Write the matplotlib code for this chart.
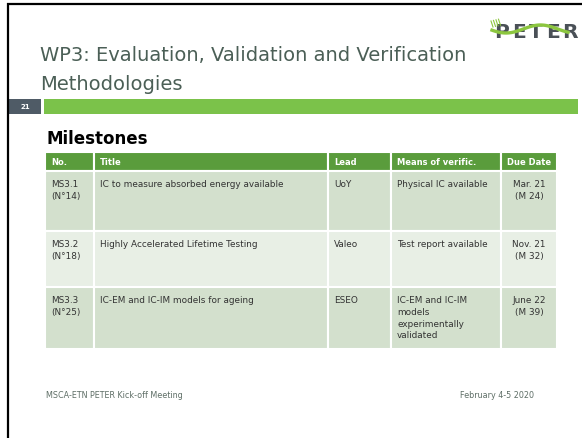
import matplotlib.pyplot as plt
from matplotlib.patches import Rectangle
import numpy as np

plt.rcParams['font.family'] = ['DejaVu Sans']

# slide content
title_lines = ["WP3: Evaluation, Validation and Verification", "Methodologies"]
slide_no = "21"
section = "Milestones"
headers = ["No.", "Title", "Lead", "Means of verific.", "Due Date"]
col_no = ["MS3.1\n(N°14)", "MS3.2\n(N°18)", "MS3.3\n(N°25)"]
col_title = ["IC to measure absorbed energy available",
             "Highly Accelerated Lifetime Testing",
             "IC-EM and IC-IM models for ageing"]
col_lead = ["UoY", "Valeo", "ESEO"]
col_means = ["Physical IC available", "Test report available",
             "IC-EM and IC-IM\nmodels\nexperimentally\nvalidated"]
col_due = ["Mar. 21\n(M 24)", "Nov. 21\n(M 32)", "June 22\n(M 39)"]
footer_left = "MSCA-ETN PETER Kick-off Meeting"
footer_right = "February 4-5 2020"

W, H = 582, 439
fig = plt.figure(figsize=(W / 100, H / 100), dpi=100)
ax = fig.add_axes([0, 0, 1, 1])
ax.set_xlim(0, W)
ax.set_ylim(H, 0)
ax.axis('off')

# slide frame (top and left edges)
ax.plot([7, W], [4.5, 4.5], color='black', lw=1.6, solid_capstyle='butt')
ax.plot([8, 8], [4, H], color='black', lw=1.6, solid_capstyle='butt')

# title
title_col = '#4b5f56'
ax.text(40, 61, title_lines[0], fontsize=14, color=title_col, va='baseline', ha='left')
ax.text(40, 90, title_lines[1], fontsize=14, color=title_col, va='baseline', ha='left')

# number box + green bar
ax.add_patch(Rectangle((9, 100), 32, 15, color='#4f5b66', lw=0))
ax.text(25, 107.5, slide_no, fontsize=5, color='white', fontweight='bold', ha='center', va='center')
ax.add_patch(Rectangle((44, 100), 534, 15, color='#7bc24a', lw=0))

# logo
for i, ch in enumerate("PETER"):
    ax.text(502 + i * 17, 33, ch, fontsize=14.5, color='#4a5057', ha='center', va='center',
            fontweight='bold', zorder=2)
wx = np.linspace(492, 568, 100)
ax.plot(wx, 30 + 4 * np.sin((wx - 492) / 76 * 2 * np.pi * 1.1 + 0.3),
        color='#8cc63f', lw=2.4, zorder=3)
for k in range(4):
    ax.plot([491 + k * 2.5, 493 + k * 2.5], [22 - k * 0.6, 28 - k * 0.6],
            color='#8cc63f', lw=0.8, zorder=3)

# section heading
ax.text(46, 144, section, fontsize=12, fontweight='bold', color='black', va='baseline')

# table
col_x = [45, 94, 328, 391, 501, 557]
row_y = [153, 172, 232, 288, 350]
row_colors = ['#5a9c3c', '#d3e0cd', '#e8efe5', '#d3e0cd']
for r in range(4):
    for c in range(5):
        ax.add_patch(Rectangle((col_x[c], row_y[r]), col_x[c + 1] - col_x[c],
                               row_y[r + 1] - row_y[r], facecolor=row_colors[r],
                               edgecolor='white', lw=1.5))

for c, h in enumerate(headers):
    if c == 4:
        ax.text((col_x[c] + col_x[c + 1]) / 2, 162.5, h, fontsize=6, color='white',
                fontweight='bold', ha='center', va='center')
    else:
        ax.text(col_x[c] + 6, 162.5, h, fontsize=6, color='white',
                fontweight='bold', ha='left', va='center')

cell_col = '#333333'
columns = [col_no, col_title, col_lead, col_means]
for r in range(3):
    top = row_y[r + 1] + 8
    for c, col in enumerate(columns):
        ax.text(col_x[c] + 6, top, col[r], fontsize=6.4, color=cell_col,
                ha='left', va='top', linespacing=1.4)
    ax.text((col_x[4] + col_x[5]) / 2, top, col_due[r], fontsize=6.4, color=cell_col,
            ha='center', va='top', linespacing=1.4, multialignment='center')

# footer
ax.text(46, 396, footer_left, fontsize=5.8, color='#5e6e66', va='center', ha='left')
ax.text(534, 396, footer_right, fontsize=5.8, color='#5e6e66', va='center', ha='right')

fig.savefig('out.png', dpi=100)
